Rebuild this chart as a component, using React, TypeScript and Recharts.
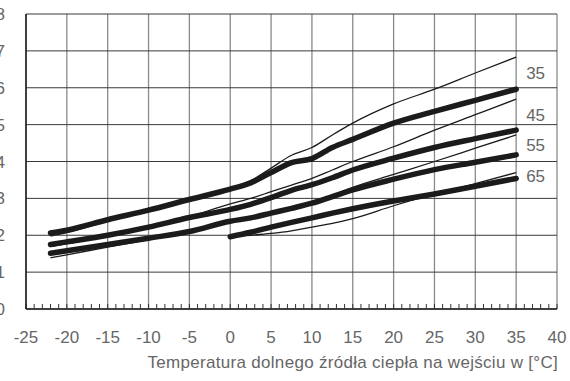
import { LineChart, Line, XAxis, YAxis, CartesianGrid, ReferenceDot } from 'recharts';

// temperatura dolnego źródła [°C]
const TEMP = [-22, -20, -15, -10, -5, 0, 2.5, 5, 7.5, 10, 12.5, 15, 20, 25, 30, 35];

// grube linie / cienkie linie dla temperatur zasilania 35, 45, 55, 65
const THICK_35 = [2.06, 2.14, 2.42, 2.68, 2.97, 3.25, 3.42, 3.7, 3.97, 4.08, 4.38, 4.6, 5.04, 5.36, 5.66, 5.96];
const THIN_35 = [1.98, 2.07, 2.38, 2.66, 2.96, 3.27, 3.48, 3.82, 4.17, 4.38, 4.72, 5.04, 5.56, 5.96, 6.4, 6.83];
const THICK_45 = [1.75, 1.82, 2.0, 2.22, 2.48, 2.7, 2.84, 3.02, 3.22, 3.37, 3.56, 3.77, 4.09, 4.38, 4.62, 4.85];
const THIN_45 = [1.69, 1.77, 1.97, 2.2, 2.5, 2.85, 3.0, 3.18, 3.36, 3.54, 3.77, 4.0, 4.4, 4.85, 5.27, 5.69];
const THICK_55 = [1.51, 1.58, 1.75, 1.92, 2.1, 2.38, 2.47, 2.6, 2.73, 2.87, 3.05, 3.23, 3.52, 3.78, 3.98, 4.18];
const THIN_55 = [1.39, 1.47, 1.68, 1.88, 2.08, 2.36, 2.47, 2.6, 2.74, 2.88, 3.08, 3.3, 3.65, 4.0, 4.36, 4.72];
const THICK_65 = [null, null, null, null, null, 1.96, 2.08, 2.22, 2.35, 2.47, 2.6, 2.72, 2.93, 3.12, 3.33, 3.54];
const THIN_65 = [null, null, null, null, null, 1.96, 2.0, 2.05, 2.12, 2.22, 2.32, 2.45, 2.8, 3.12, 3.4, 3.7];

const GROUPS = [
  { name: '35', thick: THICK_35, thin: THIN_35 },
  { name: '45', thick: THICK_45, thin: THIN_45 },
  { name: '55', thick: THICK_55, thin: THIN_55 },
  { name: '65', thick: THICK_65, thin: THIN_65 },
];

const X_TICKS = [-25, -20, -15, -10, -5, 0, 5, 10, 15, 20, 25, 30, 35, 40];
const Y_TICKS = [0, 1, 2, 3, 4, 5, 6, 7, 8];
const X_MINOR = Array.from({ length: 66 }, (_, i) => i - 25);
const Y_MINOR = Array.from({ length: 33 }, (_, i) => i * 0.25);

const X_TITLE = 'Temperatura dolnego źródła ciepła na wejściu w [°C]';

const FONT = '"Liberation Sans", Arial, sans-serif';
const TEXT_COLOR = '#666';
const LINE_COLOR = '#1b1b1b';

const data = TEMP.map((t, i) => {
  const row: Record<string, number | null> = { t };
  GROUPS.forEach(g => {
    row[`thick${g.name}`] = g.thick[i];
    row[`thin${g.name}`] = g.thin[i];
  });
  return row;
});

const tickStyle = { fill: TEXT_COLOR, fontSize: 17, fontFamily: FONT };

export default function App() {
  return (
    <div style={{ position: 'absolute', left: 0, top: 0, background: '#fff' }}>
      <LineChart width={570} height={381} data={data} margin={{ top: 14, right: 13, left: 6, bottom: 0 }}>
        <CartesianGrid horizontal={false} stroke="#8a8a8a" strokeWidth={1.3} />
        <CartesianGrid vertical={false} stroke="#3a3a3a" strokeWidth={1} />
        <XAxis
          type="number"
          dataKey="t"
          domain={[-25, 40]}
          ticks={X_TICKS}
          interval={0}
          height={72}
          tickLine={false}
          tickSize={0}
          tickMargin={22}
          axisLine={{ stroke: '#222', strokeWidth: 1.6 }}
          tick={tickStyle}
          label={{
            value: X_TITLE,
            content: ({ viewBox }: any) => (
              <text
                x={viewBox.x + viewBox.width + 1}
                y={viewBox.y + 59}
                textAnchor="end"
                fill={TEXT_COLOR}
                fontSize={17}
                fontFamily={FONT}
                letterSpacing={0.3}
              >
                {X_TITLE}
              </text>
            ),
          }}
        />
        <XAxis
          xAxisId="minor"
          type="number"
          dataKey="t"
          domain={[-25, 40]}
          ticks={X_MINOR}
          interval={0}
          mirror
          height={10}
          axisLine={false}
          tickSize={5}
          stroke="#333"
          tickFormatter={() => ''}
        />
        <YAxis
          type="number"
          domain={[0, 8]}
          ticks={Y_TICKS}
          interval={0}
          width={20}
          tickLine={false}
          tickSize={0}
          tickMargin={21}
          axisLine={{ stroke: '#222', strokeWidth: 1.6 }}
          tick={tickStyle}
        />
        <YAxis
          yAxisId="minor"
          type="number"
          domain={[0, 8]}
          ticks={Y_MINOR}
          interval={0}
          mirror
          width={10}
          axisLine={false}
          tickSize={6}
          stroke="#333"
          tickFormatter={() => ''}
        />
        {GROUPS.map(g => (
          <Line
            key={`thin${g.name}`}
            dataKey={`thin${g.name}`}
            type="monotone"
            stroke={LINE_COLOR}
            strokeWidth={1.3}
            dot={false}
            activeDot={false}
            isAnimationActive={false}
          />
        ))}
        {GROUPS.map(g => (
          <Line
            key={`thick${g.name}`}
            dataKey={`thick${g.name}`}
            type="monotone"
            stroke={LINE_COLOR}
            strokeWidth={5.5}
            strokeLinecap="round"
            strokeLinejoin="round"
            dot={false}
            activeDot={false}
            isAnimationActive={false}
          />
        ))}
        {GROUPS.map(g => {
          const n = g.thick.length - 1;
          const mid = ((g.thick[n] as number) + (g.thin[n] as number)) / 2;
          return (
            <ReferenceDot
              key={`lbl${g.name}`}
              x={TEMP[n]}
              y={mid}
              r={0}
              fill="none"
              stroke="none"
              label={{ value: g.name, position: 'right', offset: 10, fill: TEXT_COLOR, fontSize: 17, fontFamily: FONT }}
            />
          );
        })}
      </LineChart>
    </div>
  );
}
